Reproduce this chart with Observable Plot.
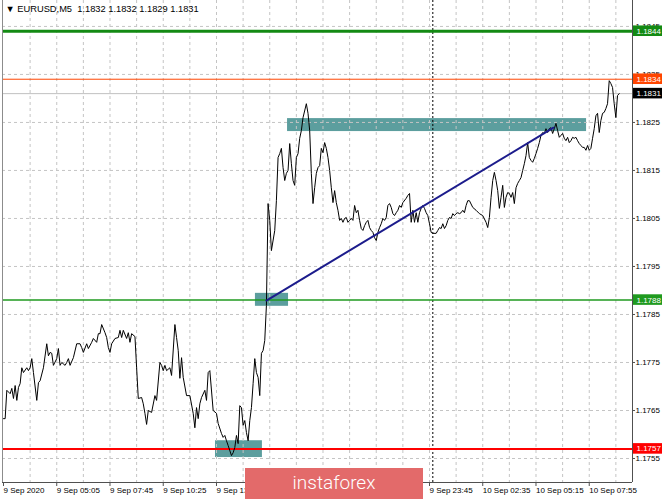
<!DOCTYPE html>
<html><head><meta charset="utf-8">
<script src="https://cdn.jsdelivr.net/npm/d3@7"></script>
<script src="https://cdn.jsdelivr.net/npm/@observablehq/plot@0.6"></script>
<style>
html,body{margin:0;padding:0;background:#fff;}
#wrap{position:relative;width:665px;height:499px;overflow:hidden;}
#wrap svg{position:absolute;left:0;top:0;}
#logo{position:absolute;left:245px;top:468px;width:178px;height:31px;background:#e36a6a;color:#fff;font-family:Roboto,"Open Sans",sans-serif;font-weight:300;font-size:19px;line-height:29px;text-align:center;}
</style></head><body><div id="wrap"><div id="logo">instaforex</div></div>
<script>
// ---- header ----
const symbol = "EURUSD,M5";
const ohlc = [1.1832, 1.1832, 1.1829, 1.1831];

// ---- price series (bar index = 5-minute bar since 9 Sep 00:00, close price) ----
const barIndex = [
0,1,2,4,5,6,7,8,9,10,11,12,14,15,16,17,18,20,21,22,
24,26,27,28,29,30,32,33,34,35,37,38,39,40,42,44,46,47,48,50,
51,53,54,56,57,58,59,61,62,63,64,65,67,69,70,71,72,74,75,76,
77,79,80,81,83,84,85,86,87,89,91,92,94,95,96,97,98,100,101,103,
104,105,106,107,108,110,112,114,115,116,117,118,119,121,122,123,124,126,128,129,
131,132,133,134,135,137,138,139,140,141,142,143,144,145,146,147,148,149,150,151,
152,153,154,155,156,157,158,159,160,161,163,164,165,166,167,168,169,170,171,172,
173,174,175,176,177,178,179,180,182,183,184,185,186,187,188,189,190,191,192,193,
194,195,196,197,198,199,200,201,202,203,204,205,206,207,208,209,210,211,212,213,
214,215,216,217,218,219,220,221,222,223,224,225,226,227,228,229,230,231,232,233,
234,235,236,237,238,239,240,242,243,244,245,246,247,248,249,250,251,252,253,254,
255,256,257,258,260,261,262,263,264,265,266,267,268,269,270,271,272,273,274,275,
276,277,278,279,280,282,284,286,288,290,291,292,293,294,295,296,297,298,299,300,
301,302,303,304,305,306,307,308,309,310,311,312,313,314,315,316,317,318,319,320,
321,322,323,324,325,326,327,328,329,330,331,332,333,334,335,336,337,338,339,340,
341,342,343,344,345,346,347,348,349,350,351,352,353,354,355,356,357,358,359,360,
361,362,363,364,365,366,367,368,369,370
];
const closePrice = [
1.17633,1.17633,1.17692,1.17685,1.17696,1.17675,1.17702,1.17671,1.17698,1.17706,1.17739,1.17729,1.17739,1.17733,1.17739,1.17758,1.17729,1.17671,1.17708,1.17712,
1.17739,1.17789,1.17764,1.17771,1.17769,1.17744,1.17758,1.17779,1.17744,1.17750,1.17744,1.17750,1.17758,1.17744,1.17760,1.17789,1.17789,1.17781,1.17771,1.17789,
1.17779,1.17792,1.17800,1.17792,1.17810,1.17810,1.17829,1.17812,1.17802,1.17781,1.17771,1.17789,1.17800,1.17802,1.17817,1.17802,1.17817,1.17800,1.17812,1.17792,
1.17810,1.17804,1.17739,1.17675,1.17677,1.17664,1.17644,1.17621,1.17650,1.17646,1.17681,1.17671,1.17750,1.17744,1.17733,1.17744,1.17733,1.17739,1.17723,1.17829,
1.17802,1.17775,1.17717,1.17760,1.17719,1.17681,1.17681,1.17644,1.17614,1.17656,1.17633,1.17664,1.17677,1.17692,1.17671,1.17729,1.17733,1.17650,1.17644,1.17623,
1.17602,1.17594,1.17598,1.17587,1.17577,1.17556,1.17562,1.17573,1.17598,1.17581,1.17660,1.17656,1.17619,1.17629,1.17604,1.17587,1.17629,1.17656,1.17706,1.17758,
1.17729,1.17719,1.17681,1.17769,1.17775,1.17796,1.17869,1.18081,1.18046,1.17983,1.18025,1.18087,1.18177,1.18185,1.18196,1.18156,1.18129,1.18144,1.18150,1.18206,
1.18164,1.18129,1.18119,1.18177,1.18185,1.18217,1.18233,1.18260,1.18289,1.18269,1.18233,1.18144,1.18081,1.18114,1.18144,1.18156,1.18160,1.18196,1.18187,1.18208,
1.18196,1.18177,1.18150,1.18114,1.18083,1.18108,1.18083,1.18067,1.18046,1.18050,1.18042,1.18050,1.18052,1.18042,1.18046,1.18050,1.18046,1.18077,1.18062,1.18067,
1.18046,1.18029,1.18025,1.18035,1.18042,1.18046,1.18031,1.18025,1.18021,1.18010,1.18004,1.18021,1.18031,1.18039,1.18050,1.18046,1.18052,1.18077,1.18081,1.18073,
1.18060,1.18056,1.18062,1.18067,1.18077,1.18073,1.18083,1.18092,1.18098,1.18102,1.18042,1.18067,1.18042,1.18062,1.18042,1.18062,1.18071,1.18077,1.18071,1.18062,
1.18056,1.18039,1.18021,1.18019,1.18019,1.18025,1.18031,1.18029,1.18039,1.18029,1.18035,1.18046,1.18052,1.18050,1.18060,1.18056,1.18060,1.18062,1.18060,1.18062,
1.18067,1.18062,1.18077,1.18087,1.18087,1.18073,1.18067,1.18060,1.18056,1.18042,1.18031,1.18052,1.18094,1.18129,1.18146,1.18129,1.18108,1.18071,1.18094,1.18119,
1.18073,1.18094,1.18104,1.18102,1.18094,1.18104,1.18081,1.18114,1.18123,1.18129,1.18135,1.18150,1.18164,1.18181,1.18208,1.18177,1.18171,1.18167,1.18175,1.18185,
1.18196,1.18208,1.18223,1.18229,1.18227,1.18237,1.18229,1.18237,1.18239,1.18227,1.18237,1.18248,1.18233,1.18219,1.18223,1.18227,1.18217,1.18212,1.18219,1.18208,
1.18212,1.18219,1.18217,1.18219,1.18212,1.18206,1.18202,1.18198,1.18198,1.18192,1.18202,1.18192,1.18196,1.18217,1.18237,1.18264,1.18269,1.18229,1.18254,1.18269,
1.18271,1.18279,1.18289,1.18337,1.18331,1.18323,1.18289,1.18260,1.18306,1.18310
];

// ---- axes ----
const xTickBars = [0,32,64,96,128,160,192,224,256,288,320,352];
const xTickLabels = ["9 Sep 2020","9 Sep 05:05","9 Sep 07:45","9 Sep 10:25","9 Sep 13:05","9 Sep 15:45","9 Sep 18:25","9 Sep 21:05","9 Sep 23:45","10 Sep 02:35","10 Sep 05:15","10 Sep 07:55"];
const xGridBars = [16,32,48,64,80,96,112,128,144,160,176,192,208,224,240,256,272,288,304,320,336,352,368];
const yTicks = [1.1755,1.1765,1.1775,1.1785,1.1795,1.1805,1.1815,1.1825,1.1835,1.1845];
const separatorBar = [258]; // 10 Sep 00:00

// ---- horizontal levels ----
const levelValues = [1.1844, 1.1834, 1.1831, 1.1788, 1.1757];
const levelColors = ["#138a13", "#ff4500", "#c0c0c0", "#1f9a1f", "#ff0000"];
const levelBoxColors = ["#138a13", "#ff4500", "#000000", "#1f9a1f", "#ff0000"];
const levelWidths = [3, 1, 1, 1.5, 2];

// ---- zones (rectangles) ----
const zoneBar1 = [170.7, 151.4, 127.4];
const zoneBar2 = [350.4, 171.3, 155.6];
const zoneLow = [1.18231, 1.17867, 1.17552];
const zoneHigh = [1.18258, 1.17894, 1.17587];

// ---- trend line ----
const trendBars = [158, 330.5];
const trendPrices = [1.17879, 1.18239];

// ---- build tables ----
if (barIndex.length !== closePrice.length) throw new Error("len " + barIndex.length + " vs " + closePrice.length);
const series = barIndex.map((b, i) => ({bar: b, close: closePrice[i]}));
const zones = zoneBar1.map((b, i) => ({b1: b, b2: zoneBar2[i], lo: zoneLow[i], hi: zoneHigh[i]}));
const trend = trendBars.map((b, i) => ({bar: b, price: trendPrices[i]}));
const levels = levelValues.map((v, i) => ({value: v, color: levelColors[i], box: levelBoxColors[i], width: levelWidths[i]}));
const header = "\u25BC " + symbol + "  " + ohlc.map(v => v.toFixed(4)).join(" ");

const xDomain = [-0.6, 378];
const yDomain = [1.1750, 1.18504];
const boxHalf = 0.00011;
const gridStyle = {stroke: "#c4c4c4", strokeDasharray: "3,3", strokeWidth: 1};

const chart = Plot.plot({
  width: 665, height: 499,
  marginLeft: 2, marginRight: 33, marginTop: 0, marginBottom: 17,
  style: {background: "white", fontFamily: "'Liberation Sans', Arial, sans-serif", fontSize: "8px", color: "#000"},
  x: {domain: xDomain, axis: null},
  y: {domain: yDomain, axis: null},
  marks: [
    Plot.rect(zones, {x1: "b1", x2: "b2", y1: "lo", y2: "hi", fill: "#5c9e9e"}),
    Plot.ruleX(xGridBars, gridStyle),
    Plot.ruleY(yTicks, gridStyle),
    Plot.ruleX(separatorBar, {stroke: "#000", strokeDasharray: "2,2", strokeWidth: 1}),
    ...levels.map(l => Plot.ruleY([l.value], {stroke: l.color, strokeWidth: l.width})),
    Plot.line(series, {x: "bar", y: "close", stroke: "#000", strokeWidth: 1}),
    Plot.line(trend, {x: "bar", y: "price", stroke: "#1c1c8c", strokeWidth: 2}),
    Plot.ruleX([xDomain[0]], {stroke: "#8c8c8c"}),
    Plot.ruleX([xDomain[1]], {stroke: "#505050"}),
    Plot.ruleY([yDomain[0]], {stroke: "#505050"}),
    Plot.axisX({ticks: xTickBars, tickFormat: d => xTickLabels[xTickBars.indexOf(d)], tickSize: 4, tickPadding: 1, textAnchor: "start", stroke: "#505050"}),
    Plot.axisY({anchor: "right", ticks: yTicks, tickFormat: d => d.toFixed(4), tickSize: 2, tickPadding: 1, stroke: "#505050"}),
    Plot.rect(levels, {y1: d => d.value - boxHalf, y2: d => d.value + boxHalf, fill: "box", insetLeft: 631, insetRight: -30}),
    Plot.text(levels, {y: "value", text: d => d.value.toFixed(4), frameAnchor: "right", textAnchor: "start", dx: 4, fill: "white"}),
    Plot.text([header], {text: d => d, frameAnchor: "top-left", lineAnchor: "middle", textAnchor: "start", dx: 3, dy: 9, fill: "#000", fontSize: 9.3})
  ]
});
const wrap = document.getElementById("wrap");
wrap.insertBefore(chart, document.getElementById("logo"));
</script>
</body></html>
